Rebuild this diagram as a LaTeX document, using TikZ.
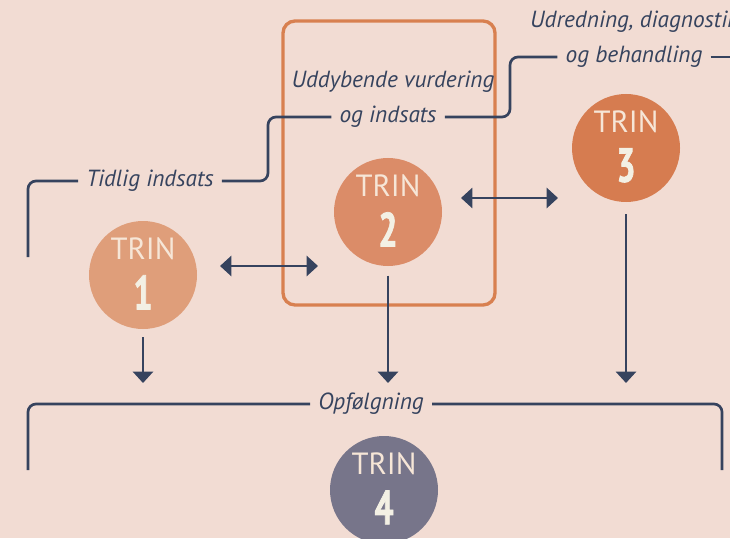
\documentclass[tikz,border=0pt]{standalone}
\usepackage{fontspec}
\setmainfont{PT Sans}
\newfontfamily\numfont{PT Sans Bold}[FakeStretch=0.7, FakeBold=1.5]
\usetikzlibrary{arrows.meta,positioning}

\definecolor{bgpink}{HTML}{F2DCD3}
\definecolor{navy}{HTML}{36435E}
\definecolor{trinA}{HTML}{DF9E7A}
\definecolor{trinB}{HTML}{DB8C68}
\definecolor{trinC}{HTML}{D67C50}
\definecolor{trinD}{HTML}{77758A}
\definecolor{frameorange}{HTML}{D88050}
\definecolor{trincream}{HTML}{F6E6D7}
\definecolor{numcream}{HTML}{F3F0E4}

\begin{document}
\begin{tikzpicture}[x=0.75pt, y=-0.75pt,
    link/.style={draw=navy, line width=2pt, rounded corners=6pt},
    arr/.style={navy, line width=2pt, -{Triangle[width=15pt,length=8.5pt]}},
    dblarr/.style={navy, line width=2pt, {Triangle[width=15pt,length=8.5pt]}-{Triangle[width=15pt,length=8.5pt]}},
    frame/.style={draw=frameorange, line width=2.5pt, rounded corners=9pt},
    ball/.style={circle, minimum size=81pt, inner sep=0pt},
    trinword/.style={text=trincream, inner sep=0pt, font=\fontsize{23}{23}\selectfont},
    trinnum/.style={text=numcream, inner sep=0pt, font=\numfont\fontsize{36}{36}\selectfont},
    lbl/.style={text=navy, inner xsep=6pt, inner ysep=2pt, font=\fontsize{17.5}{19}\selectfont\itshape}]
            \useasboundingbox (0, 0) rectangle (730, 538);
            \clip (0, 0) rectangle (730, 538);
            \fill[bgpink] (0, 0) rectangle (730, 538);

            % frame round step 2
            \draw[frame] (283, 21) rectangle (495, 305);

            % the four steps
            \node[ball, fill=trinA] (t1) at (143, 275) {};
            \node[ball, fill=trinB] (t2) at (388, 212) {};
            \node[ball, fill=trinC] (t3) at (626, 148) {};
            \node[ball, fill=trinD] (t4) at (384, 490) {};
            \node[trinword] (t1w) at ([yshift=20pt]t1.center) {TRIN};
            \node[trinnum] (t1n) at ([yshift=-13pt]t1.center) {1};
            \node[trinword] (t2w) at ([yshift=20pt]t2.center) {TRIN};
            \node[trinnum] (t2n) at ([yshift=-13pt]t2.center) {2};
            \node[trinword] (t3w) at ([yshift=20pt]t3.center) {TRIN};
            \node[trinnum] (t3n) at ([yshift=-13pt]t3.center) {3};
            \node[trinword] (t4w) at ([yshift=20pt]t4.center) {TRIN};
            \node[trinnum] (t4n) at ([yshift=-13pt]t4.center) {4};

            % labels
            \node[lbl] (tidlig) at (150, 181) {Tidlig indsats};
            \node[lbl] (udd) at (393, 82) {Uddybende vurdering};
            \node[lbl] (uddb) at (388, 117) {og indsats};
            \node[lbl] (udr) at (634, 22) {Udredning, diagnostik};
            \node[lbl] (udrb) at (634, 57) {og behandling};
            \node[lbl] (opf) at (371, 404) {Opfølgning};

            % the long line on top
            \coordinate (l1) at (28, 257);
            \coordinate (k1) at (268, 150);
            \coordinate (k2) at (510, 90);
            \coordinate (r1) at (745, 57);
            \draw[link] (l1) |- (tidlig.west);
            \draw[link] (tidlig.east) -| (k1) |- (uddb.west);
            \draw[link] (uddb.east) -| (k2) |- (udrb.west);
            \draw[link] (udrb.east) -- (r1);

            % bracket at the bottom
            \coordinate (b1) at (28, 470);
            \coordinate (b2) at (722, 470);
            \draw[link] (b1) |- (opf.west);
            \draw[link] (opf.east) -| (b2);

            % arrows
            \coordinate (ende) at (0, 383);
            \draw[arr, shorten <=6pt] (t1.south) -- (t1.south |- ende);
            \draw[arr, shorten <=7pt] (t2.south) -- (t2.south |- ende);
            \draw[arr, shorten <=9pt] (t3.south) -- (t3.south |- ende);
            \coordinate (d1a) at (220, 266);
            \coordinate (d1b) at (318, 266);
            \coordinate (d2a) at (461, 198);
            \coordinate (d2b) at (558, 198);
            \draw[dblarr] (d1a) -- (d1b);
            \draw[dblarr] (d2a) -- (d2b);
        \end{tikzpicture}
\end{document}
